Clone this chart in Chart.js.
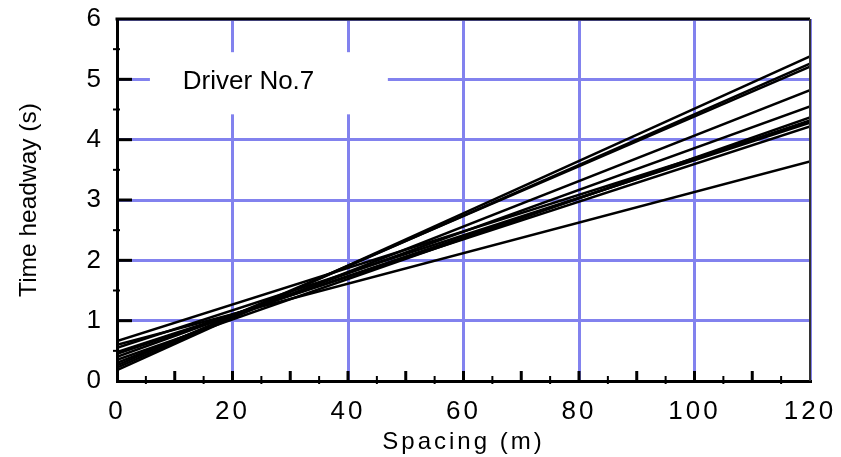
<!DOCTYPE html>
<html>
<head>
<meta charset="utf-8">
<script src="https://cdn.jsdelivr.net/npm/chart.js@4/dist/chart.umd.min.js"></script>
<style>
html,body{margin:0;padding:0;background:#fff;}
#wrap{width:841px;height:457px;}
</style>
</head>
<body>
<div id="wrap"><canvas id="c" width="841" height="457"></canvas></div>
<script>
// Each regression line: value at spacing 0 and value at spacing 120
const lineStartX = 0;
const lineEndX = 120;
const interceptsAt0 = [0.18, 0.22, 0.26, 0.30, 0.40, 0.35, 0.45, 0.55, 0.48, 0.66, 0.60];
const valuesAt120   = [5.38, 5.26, 5.21, 4.82, 4.55, 4.37, 4.32, 4.28, 4.22, 4.30, 3.64];
const xTicks = [0, 20, 40, 60, 80, 100, 120];
const yTicks = [0, 1, 2, 3, 4, 5, 6];
const legendText = 'Driver No.7';
const xTitle = 'Spacing (m)';
const yTitle = 'Time headway (s)';

const datasets = interceptsAt0.map((b, i) => ({
  data: [{x: lineStartX, y: b}, {x: lineEndX, y: valuesAt120[i]}],
  borderColor: '#000',
  borderWidth: 2.5,
  pointRadius: 0,
  showLine: true,
  fill: false
}));

const GRID = '#8282ee';
const FONT = "'Liberation Sans', Arial, sans-serif";

const framePlugin = {
  id: 'frame',
  beforeDatasetsDraw(chart) {
    const {ctx, scales: {x, y}} = chart;
    const x0 = x.getPixelForValue(5.7), x1 = x.getPixelForValue(46.9);
    const y0 = y.getPixelForValue(5.45), y1 = y.getPixelForValue(4.42);
    ctx.save();
    ctx.fillStyle = '#fff';
    ctx.fillRect(x0, y0, x1 - x0, y1 - y0);
    ctx.fillStyle = '#000';
    ctx.font = "26px " + FONT;
    ctx.textAlign = 'left';
    ctx.textBaseline = 'middle';
    ctx.fillText(legendText, x.getPixelForValue(11.4), y.getPixelForValue(4.96));
    ctx.restore();
  },
  afterDatasetsDraw(chart) {
    const {ctx, chartArea: a, scales: {x, y}} = chart;
    ctx.save();
    ctx.strokeStyle = '#000';
    ctx.lineWidth = 3;
    ctx.beginPath();
    ctx.moveTo(a.left - 1.5, a.top); ctx.lineTo(a.right, a.top);
    ctx.stroke();
    ctx.lineWidth = 2;
    ctx.strokeStyle = '#333';
    ctx.beginPath();
    ctx.moveTo(a.right, a.top); ctx.lineTo(a.right, a.bottom);
    ctx.stroke();
    ctx.strokeStyle = '#000';
    ctx.lineWidth = 3;
    for (let v = 1; v < 6; v++) {
      const py = y.getPixelForValue(v);
      ctx.beginPath(); ctx.moveTo(a.left, py); ctx.lineTo(a.left + 15, py); ctx.stroke();
    }
    ctx.lineWidth = 2;
    for (let v = 0.5; v < 6; v += 1) {
      const py = y.getPixelForValue(v);
      ctx.beginPath(); ctx.moveTo(a.left - 4, py); ctx.lineTo(a.left + 3, py); ctx.stroke();
    }
    for (let v = 10; v < 120; v += 10) {
      const px = x.getPixelForValue(v);
      ctx.lineWidth = 3;
      ctx.beginPath(); ctx.moveTo(px, a.bottom - 10); ctx.lineTo(px, a.bottom + 2); ctx.stroke();
    }
    for (let v = 5; v < 120; v += 10) {
      const px = x.getPixelForValue(v);
      ctx.lineWidth = 2;
      ctx.beginPath(); ctx.moveTo(px, a.bottom - 5); ctx.lineTo(px, a.bottom + 3); ctx.stroke();
    }
    ctx.restore();
    // spaced-out glyphs for the x tick labels and x title (drawn after datasets)
    ctx.letterSpacing = '3px';
  },
  afterDraw(chart) {
    chart.ctx.letterSpacing = '0px';
  }
};

new Chart(document.getElementById('c'), {
  type: 'scatter',
  data: { datasets },
  options: {
    responsive: false,
    animation: false,
    events: [],
    layout: { padding: { left: 0, right: 31, top: 19, bottom: 0 } },
    plugins: { legend: { display: false }, tooltip: { enabled: false } },
    scales: {
      x: {
        type: 'linear', min: 0, max: 120, position: 'bottom',
        afterFit(s) { s.height = 50; s.paddingLeft = 0; s.paddingRight = 0; },
        afterBuildTicks(s) { s.ticks = xTicks.map(v => ({value: v})); },
        grid: { color: GRID, lineWidth: 3, drawTicks: false },
        border: { color: '#000', width: 3 },
        ticks: { z: 1, padding: 15, color: '#000', font: { family: FONT, size: 26 }, maxRotation: 0, autoSkip: false },
        title: { display: false }
      },
      x2: {
        type: 'linear', min: 0, max: 120, position: 'bottom',
        afterFit(s) { s.height = 26; s.paddingLeft = 0; s.paddingRight = 0; },
        grid: { display: false, drawTicks: false, z: 1 },
        border: { display: false },
        ticks: { display: false },
        title: { display: true, text: xTitle, color: '#000', font: { family: FONT, size: 24 }, padding: { top: 0, bottom: 0 } }
      },
      y: {
        type: 'linear', min: 0, max: 6,
        afterFit(s) { s.width = 117; s.paddingTop = 0; s.paddingBottom = 0; },
        afterBuildTicks(s) { s.ticks = yTicks.map(v => ({value: v})); },
        grid: { color: GRID, lineWidth: 3, drawTicks: false },
        border: { color: '#000', width: 3 },
        ticks: { padding: 16, color: '#000', font: { family: FONT, size: 26 } },
        title: { display: true, text: yTitle, color: '#000', font: { family: FONT, size: 24.5 }, padding: { top: 15, bottom: 0 } }
      }
    }
  },
  plugins: [framePlugin]
});
</script>
</body>
</html>
